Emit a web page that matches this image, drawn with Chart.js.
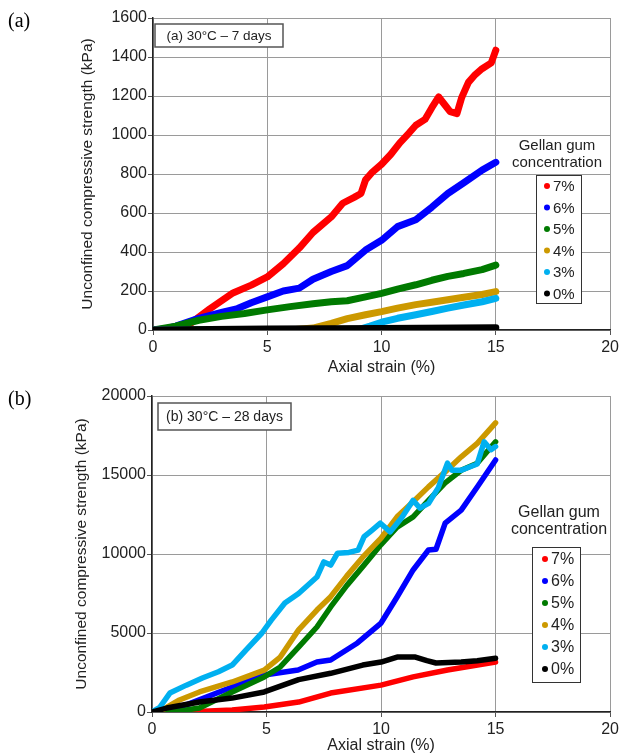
<!DOCTYPE html>
<html>
<head>
<meta charset="utf-8">
<script src="https://cdn.jsdelivr.net/npm/chart.js@4.4.1/dist/chart.umd.min.js"></script>
<style>
  html, body { margin: 0; padding: 0; background: #fff; }
  .panel { position: absolute; left: 0; width: 622px; height: 378px; }
  .tag { position: absolute; left: 8px; font: 20px "Liberation Serif", "Times New Roman", serif; color: #000; }
</style>
</head>
<body>
<div class="panel" style="top:0"><canvas id="chart-a" width="622" height="378"></canvas></div>
<div class="panel" style="top:378px"><canvas id="chart-b" width="622" height="378"></canvas></div>
<div class="tag" style="top:9px">(a)</div>
<div class="tag" style="top:387px">(b)</div>
<script>
/* ── Datos ── */
const seriesLabels = ['7%', '6%', '5%', '4%', '3%', '0%'];
const seriesColors = ['#ff0000', '#0000ff', '#007a00', '#cc9900', '#00b0f0', '#000000'];
const xTicks = [0, 5, 10, 15, 20];

// (a) 30°C – 7 días
const a7x = [0, 1.0, 1.6, 2.5, 3.5, 4.3, 5, 5.7, 6.4, 7.0, 7.8, 8.3, 8.8, 9.1, 9.3, 9.6, 10, 10.4, 10.8, 11.2, 11.5, 11.9, 12.2, 12.5, 12.8, 13.0, 13.3, 13.5, 13.8, 14.1, 14.4, 14.8, 15];
const a7y = [0, 5, 30, 110, 190, 230, 272, 340, 420, 500, 580, 650, 680, 700, 770, 810, 850, 900, 960, 1010, 1050, 1080, 1140, 1195, 1150, 1120, 1110, 1190, 1270, 1310, 1340, 1370, 1435];
const a6x = [0, 0.5, 1, 2, 3, 3.7, 4.3, 5, 5.7, 6.4, 7.0, 7.8, 8.5, 9.3, 10, 10.7, 11.5, 12.2, 12.9, 13.6, 14.4, 15];
const a6y = [0, 5, 20, 60, 90, 110, 140, 170, 200, 215, 260, 300, 330, 410, 460, 530, 565, 630, 700, 755, 820, 860];
const a5x = [0, 1, 2, 3, 4, 5, 6, 7, 7.8, 8.5, 9.3, 10, 10.7, 11.5, 12.2, 12.9, 13.6, 14.4, 15];
const a5y = [0, 20, 50, 70, 85, 103, 120, 135, 145, 150, 170, 188, 210, 232, 255, 275, 290, 310, 333];
const a4x = [0, 6, 7, 7.8, 8.5, 9.3, 10, 10.7, 11.5, 12.2, 12.9, 13.6, 14.4, 15];
const a4y = [0, 0, 10, 34, 58, 78, 94, 112, 130, 142, 155, 168, 182, 197];
const a3x = [0, 8, 9, 9.5, 10, 10.7, 11.5, 12.2, 12.9, 13.6, 14.4, 15];
const a3y = [0, 0, 2, 20, 40, 60, 78, 95, 112, 128, 145, 162];
const a0x = [0, 5, 10, 15];
const a0y = [0, 5, 8, 12];

// (b) 30°C – 28 días
const b7x = [0, 1.5, 3.5, 4.9, 6.4, 7.8, 10, 11.4, 12.9, 15];
const b7y = [0, 0, 130, 320, 630, 1200, 1700, 2220, 2660, 3160];
const b6x = [0, 1.5, 3.5, 4.9, 6.38, 7.2, 7.8, 8.97, 10, 10.7, 11.4, 12.07, 12.4, 12.8, 13.5, 14.2, 15];
const b6y = [0, 450, 1580, 2340, 2660, 3160, 3290, 4370, 5630, 7280, 8990, 10250, 10300, 11960, 12780, 14240, 15950];
const b5x = [0, 0.9, 2.07, 3.5, 4.9, 5.6, 6.4, 7.2, 7.8, 8.5, 9.2, 10, 10.7, 11.4, 12.07, 12.8, 13.5, 14.2, 15];
const b5y = [0, 0, 250, 1270, 2220, 2850, 4100, 5380, 6650, 8000, 9200, 10600, 11700, 12350, 13400, 14500, 15300, 15750, 17100];
const b4x = [0, 0.3, 1.2, 2.07, 3.5, 4.9, 5.6, 6.4, 7.2, 7.8, 8.5, 9.2, 10, 10.7, 11.4, 12.07, 12.8, 13.5, 14.2, 15];
const b4y = [0, 0, 760, 1270, 1900, 2650, 3480, 5200, 6450, 7300, 8600, 9800, 11000, 12350, 13300, 14250, 15200, 16150, 17000, 18300];
const b3x = [0, 0.34, 0.78, 1.5, 2.2, 2.9, 3.5, 4.1, 4.8, 5.2, 5.8, 6.4, 7.2, 7.5, 7.8, 8.1, 8.6, 9.0, 9.26, 9.6, 9.97, 10.4, 10.9, 11.4, 11.7, 12.07, 12.5, 12.9, 13.1, 13.5, 14.2, 14.5, 14.8, 15];
const b3y = [0, 300, 1200, 1700, 2150, 2550, 2970, 3920, 5000, 5800, 6900, 7500, 8540, 9500, 9300, 10050, 10100, 10250, 11100, 11500, 11950, 11400, 12300, 13400, 12900, 13200, 14200, 15750, 15300, 15300, 15700, 17100, 16600, 16800];
const b0x = [0, 0.64, 2.07, 3.5, 4.9, 6.4, 7.8, 9.2, 10, 10.7, 11.5, 12.0, 12.4, 13.5, 14.2, 15];
const b0y = [0, 250, 630, 880, 1270, 2050, 2450, 2970, 3160, 3480, 3480, 3250, 3100, 3160, 3250, 3400];

const FONT = 'Arial, "Liberation Sans", sans-serif';

/* ── Recuadro de nota y leyenda ── */
const decoPlugin = {
  id: 'deco',
  afterDraw(chart, args, o) {
    const ctx = chart.ctx;
    ctx.save();
    // nota
    const [nx, ny, nw, nh] = o.noteBox;
    ctx.fillStyle = '#fff';
    ctx.fillRect(nx, ny, nw, nh);
    ctx.strokeStyle = '#555';
    ctx.lineWidth = 1.5;
    ctx.strokeRect(nx, ny, nw, nh);
    ctx.fillStyle = '#222';
    ctx.font = o.noteFont + ' ' + FONT;
    ctx.textAlign = 'center';
    ctx.textBaseline = 'middle';
    ctx.fillText(o.note, nx + nw / 2, ny + nh / 2 + 1);

    // título de leyenda
    ctx.font = o.legFont + ' ' + FONT;
    ctx.fillText('Gellan gum', o.titleX, o.titleY[0]);
    ctx.fillText('concentration', o.titleX, o.titleY[1]);

    // caja de leyenda
    const [lx, ly, lw, lh] = o.legBox;
    ctx.fillStyle = '#fff';
    ctx.fillRect(lx, ly, lw, lh);
    ctx.strokeStyle = '#333';
    ctx.lineWidth = 1;
    ctx.strokeRect(lx + 0.5, ly + 0.5, lw, lh);
    ctx.textAlign = 'left';
    seriesLabels.forEach((lab, i) => {
      const y = o.itemY + i * o.itemStep;
      ctx.fillStyle = seriesColors[i];
      ctx.beginPath();
      ctx.arc(o.dotX, y, 3, 0, Math.PI * 2);
      ctx.fill();
      ctx.fillStyle = '#222';
      ctx.fillText(lab, o.textX, y + 1);
    });
    ctx.restore();
  }
};

function makeDatasets(xs, ys, width) {
  // 0% primero para que quede encima (Chart.js dibuja el índice 0 al final)
  const idx = [5, 4, 3, 2, 1, 0];
  return idx.map(i => ({
    label: seriesLabels[i],
    data: xs[i].map((x, k) => ({ x, y: ys[i][k] })),
    borderColor: seriesColors[i],
    backgroundColor: seriesColors[i],
    borderWidth: width,
    borderJoinStyle: 'round',
    borderCapStyle: 'round',
    pointRadius: 0,
    showLine: true,
    tension: 0,
  }));
}

function makeChart(id, cfg) {
  return new Chart(document.getElementById(id), {
    type: 'scatter',
    data: { datasets: makeDatasets(cfg.xs, cfg.ys, cfg.lineW) },
    plugins: [decoPlugin],
    options: {
      responsive: false,
      animation: false,
      events: [],
      layout: { padding: { left: 0, right: cfg.padRight, top: cfg.padTop, bottom: 0 } },
      plugins: {
        legend: { display: false },
        tooltip: { enabled: false },
        deco: cfg.deco,
      },
      scales: {
        x: {
          type: 'linear', min: 0, max: 20,
          afterBuildTicks: s => { s.ticks = xTicks.map(v => ({ value: v })); },
          afterFit: s => { s.height = cfg.xH; },
          grid: { color: '#9a9a9a', tickLength: 5, tickColor: '#555' },
          border: { color: '#222', width: 1.5 },
          ticks: { color: '#222', font: { family: FONT, size: 16 }, padding: 3, maxRotation: 0,
                   callback: v => String(v) },
          title: { display: true, text: 'Axial strain (%)', color: '#222',
                   font: { family: FONT, size: 16 }, padding: { top: 0, bottom: 1 } },
        },
        y: {
          type: 'linear', min: 0, max: cfg.yMax,
          afterBuildTicks: s => { s.ticks = cfg.yTicks.map(v => ({ value: v })); },
          afterFit: s => { s.width = cfg.yW; },
          grid: { color: '#9a9a9a', tickLength: 5, tickColor: '#555' },
          border: { color: '#222', width: 1.5 },
          ticks: { color: '#222', font: { family: FONT, size: 16 }, padding: 1,
                   callback: v => String(v) },
          title: { display: true, text: 'Unconfined compressive strength (kPa)', color: '#222',
                   font: { family: FONT, size: 15.5 }, padding: { top: cfg.yTitlePad, bottom: 0 } },
        },
      },
    },
  });
}

const yTicksA = [0, 200, 400, 600, 800, 1000, 1200, 1400, 1600];
const yTicksB = [0, 5000, 10000, 15000, 20000];

makeChart('chart-a', {
  xs: [a7x, a6x, a5x, a4x, a3x, a0x],
  ys: [a7y, a6y, a5y, a4y, a3y, a0y],
  lineW: 7, yMax: 1600, yTicks: yTicksA,
  padRight: 9, padTop: 18, xH: 48, yW: 153, yTitlePad: 78,
  deco: {
    note: '(a) 30°C – 7 days', noteFont: '13.5px', noteBox: [155, 24, 128, 23],
    legFont: '15px', titleX: 557, titleY: [146, 163],
    legBox: [536, 175, 45, 128], itemY: 186, itemStep: 21.5, dotX: 547, textX: 553,
  },
});

makeChart('chart-b', {
  xs: [b7x, b6x, b5x, b4x, b3x, b0x],
  ys: [b7y, b6y, b5y, b4y, b3y, b0y],
  lineW: 5.5, yMax: 20000, yTicks: yTicksB,
  padRight: 6, padTop: 18, xH: 44, yW: 152, yTitlePad: 72,
  deco: {
    note: '(b) 30°C – 28 days', noteFont: '14px', noteBox: [158, 25, 133, 27],
    legFont: '16px', titleX: 559, titleY: [135, 152],
    legBox: [532, 169, 48, 135], itemY: 181, itemStep: 22, dotX: 545, textX: 551,
  },
});
</script>
</body>
</html>
